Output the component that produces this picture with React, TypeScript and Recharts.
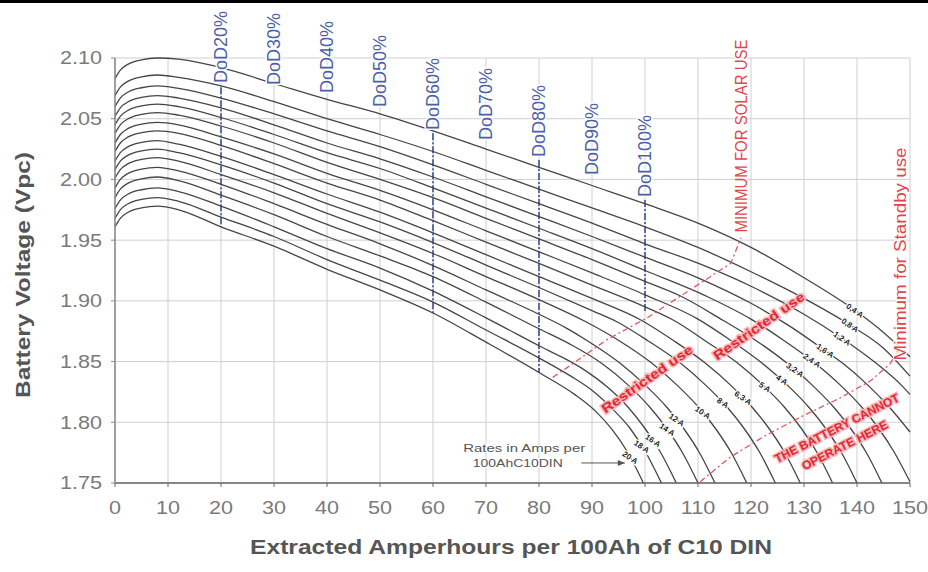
import React from 'react';
import { ComposedChart, Line, Scatter, XAxis, YAxis, CartesianGrid, ReferenceLine } from 'recharts';

const FONT = "'Liberation Sans', Arial, Helvetica, sans-serif";
const STRETCH = 1.2;

const xTicks = [0, 10, 20, 30, 40, 50, 60, 70, 80, 90, 100, 110, 120, 130, 140, 150];
const yTicks = [1.75, 1.8, 1.85, 1.9, 1.95, 2.0, 2.05, 2.1];

const rateNames = ['0,4 A', '0,8 A', '1,2 A', '1,6 A', '2,4 A', '3,2 A', '4 A', '5 A', '6,3 A', '8 A', '10 A', '12 A', '14 A', '16 A', '18 A', '20 A'];

// discharge curves: [Ah extracted per 100Ah, volts per cell]
const c0_4 = [[0, 2.083], [1, 2.09], [2.5, 2.095], [5, 2.0985], [8, 2.1], [12, 2.099], [20, 2.092], [30, 2.079], [40, 2.066], [50, 2.054], [60, 2.04], [70, 2.025], [80, 2.01], [90, 1.995], [100, 1.98], [110, 1.964], [120, 1.944], [130, 1.919], [140, 1.891], [145, 1.874], [150, 1.854]];
const c0_8 = [[0, 2.069], [1, 2.076], [2.5, 2.081], [5, 2.0845], [8, 2.086], [12, 2.084], [20, 2.077], [30, 2.064], [40, 2.05], [50, 2.037], [60, 2.023], [70, 2.0075], [80, 1.992], [90, 1.9765], [100, 1.961], [110, 1.944], [120, 1.924], [130, 1.902], [138.7, 1.88], [145, 1.861], [150, 1.838]];
const c1_2 = [[0, 2.06], [1, 2.067], [2.5, 2.072], [5, 2.0755], [8, 2.077], [12, 2.075], [20, 2.067], [30, 2.054], [40, 2.04], [50, 2.027], [60, 2.012], [70, 1.996], [80, 1.98], [90, 1.964], [100, 1.947], [110, 1.931], [120, 1.912], [130, 1.889], [137.2, 1.869], [143.5, 1.849], [148.5, 1.83], [150, 1.823]];
const c1_6 = [[0, 2.052], [1, 2.059], [2.5, 2.064], [5, 2.0675], [8, 2.069], [12, 2.067], [20, 2.059], [30, 2.045], [40, 2.03], [50, 2.017], [60, 2.002], [70, 1.9857], [80, 1.9694], [90, 1.953], [100, 1.936], [110, 1.919], [120, 1.898], [127, 1.88], [134, 1.859], [137.2, 1.849], [142.2, 1.83], [146.2, 1.812], [150, 1.792]];
const c2_4 = [[0, 2.045], [1, 2.052], [2.5, 2.057], [5, 2.0605], [8, 2.062], [12, 2.06], [20, 2.051], [30, 2.037], [40, 2.022], [50, 2.009], [60, 1.993], [70, 1.9764], [80, 1.9598], [90, 1.943], [100, 1.925], [112, 1.903], [120, 1.885], [126, 1.868], [132, 1.849], [137, 1.83], [141, 1.812], [144, 1.7955], [147, 1.7755], [150, 1.751]];
const c3_2 = [[0, 2.038], [1, 2.045], [2.5, 2.05], [5, 2.0535], [8, 2.055], [12, 2.053], [20, 2.044], [30, 2.03], [40, 2.014], [50, 2.0], [60, 1.985], [70, 1.968], [80, 1.951], [90, 1.934], [100, 1.916], [106.7, 1.904], [114.7, 1.884], [120.7, 1.868], [126.7, 1.849], [131.7, 1.83], [135.7, 1.812], [138.7, 1.7955], [141.7, 1.7755], [144.7, 1.75]];
const c4 = [[0, 2.03], [1, 2.037], [2.5, 2.042], [5, 2.0455], [8, 2.047], [12, 2.045], [20, 2.035], [30, 2.021], [40, 2.005], [50, 1.991], [60, 1.975], [70, 1.9577], [80, 1.9404], [90, 1.923], [100, 1.905], [110, 1.885], [116, 1.868], [122, 1.849], [127, 1.83], [131, 1.812], [134, 1.7955], [137, 1.7755], [140, 1.75]];
const c5 = [[0, 2.023], [1, 2.03], [2.5, 2.035], [5, 2.0385], [8, 2.04], [12, 2.038], [20, 2.028], [30, 2.013], [40, 1.997], [50, 1.983], [60, 1.966], [70, 1.9484], [80, 1.9308], [90, 1.913], [100, 1.895], [105.4, 1.884], [111.4, 1.867], [117.4, 1.849], [122.4, 1.83], [126.4, 1.812], [129.4, 1.7955], [132.4, 1.7755], [135.4, 1.75]];
const c6_3 = [[0, 2.015], [1, 2.022], [2.5, 2.027], [5, 2.0305], [8, 2.032], [12, 2.029], [20, 2.019], [30, 2.004], [40, 1.988], [50, 1.973], [60, 1.956], [70, 1.938], [80, 1.92], [90, 1.902], [99.3, 1.884], [105.3, 1.8675], [111.3, 1.849], [116.3, 1.83], [120.3, 1.812], [123.3, 1.7955], [126.3, 1.7755], [129.3, 1.75]];
const c8 = [[0, 2.008], [1, 2.015], [2.5, 2.02], [5, 2.0235], [8, 2.025], [12, 2.022], [20, 2.012], [30, 1.997], [40, 1.98], [50, 1.965], [60, 1.948], [70, 1.9295], [80, 1.911], [90, 1.892], [94.6, 1.883], [100.6, 1.867], [106.6, 1.849], [111.6, 1.83], [115.6, 1.812], [118.6, 1.7955], [121.6, 1.7755], [124.6, 1.75]];
const c10 = [[0, 2.001], [1, 2.008], [2.5, 2.013], [5, 2.0165], [8, 2.018], [12, 2.015], [20, 2.004], [30, 1.989], [40, 1.972], [50, 1.956], [60, 1.939], [70, 1.92], [80, 1.901], [89.2, 1.882], [95.2, 1.867], [101.2, 1.849], [106.2, 1.83], [110.2, 1.812], [113.2, 1.7955], [116.2, 1.7755], [119.2, 1.75]];
const c12 = [[0, 1.993], [1, 2.0], [2.5, 2.005], [5, 2.0085], [8, 2.01], [12, 2.007], [20, 1.996], [30, 1.98], [40, 1.963], [50, 1.947], [60, 1.929], [70, 1.909], [80, 1.889], [85, 1.878], [89.2, 1.867], [95.2, 1.849], [100.2, 1.83], [104.2, 1.812], [107.2, 1.7955], [110.2, 1.7755], [113.2, 1.75]];
const c14 = [[0, 1.985], [1, 1.992], [2.5, 1.997], [5, 2.0005], [8, 2.002], [12, 1.999], [20, 1.987], [30, 1.971], [40, 1.953], [50, 1.937], [60, 1.92], [70, 1.899], [80, 1.877], [86, 1.864], [92, 1.848], [97, 1.83], [101, 1.812], [104, 1.7955], [107, 1.7755], [110, 1.75]];
const c16 = [[0, 1.976], [1, 1.983], [2.5, 1.988], [5, 1.9915], [8, 1.993], [12, 1.99], [20, 1.978], [30, 1.961], [40, 1.943], [50, 1.927], [60, 1.908], [70, 1.886], [80, 1.863], [87.9, 1.845], [92.9, 1.829], [96.9, 1.812], [99.9, 1.7955], [102.9, 1.7755], [105.9, 1.75]];
const c18 = [[0, 1.968], [1, 1.975], [2.5, 1.98], [5, 1.9835], [8, 1.985], [12, 1.982], [20, 1.969], [30, 1.953], [40, 1.934], [50, 1.917], [60, 1.899], [70, 1.876], [80, 1.853], [86, 1.838], [90.1, 1.826], [94.1, 1.81], [97.1, 1.7955], [100.1, 1.7755], [103.1, 1.75]];
const c20 = [[0, 1.961], [1, 1.968], [2.5, 1.973], [5, 1.9765], [8, 1.978], [12, 1.975], [20, 1.961], [30, 1.945], [40, 1.926], [50, 1.909], [60, 1.89], [70, 1.866], [80, 1.841], [86.7, 1.823], [90.7, 1.809], [93.7, 1.7945], [96.7, 1.7755], [99.7, 1.75]];

const curves = [c0_4, c0_8, c1_2, c1_6, c2_4, c3_2, c4, c5, c6_3, c8, c10, c12, c14, c16, c18, c20];

// where the rate labels sit (Ah, V)
const rateLabelX = [139.6, 138.7, 137.2, 134.0, 131.5, 128.3, 125.8, 122.6, 118.5, 114.7, 110.9, 106.0, 104.2, 101.5, 99.4, 97.2];
const rateLabelV = [1.892, 1.88, 1.869, 1.859, 1.851, 1.843, 1.835, 1.829, 1.82, 1.816, 1.808, 1.802, 1.794, 1.785, 1.78, 1.771];

// depth of discharge markers
const dodNames = ['DoD20%', 'DoD30%', 'DoD40%', 'DoD50%', 'DoD60%', 'DoD70%', 'DoD80%', 'DoD90%', 'DoD100%'];
const dodX = [20, 30, 40, 50, 60, 70, 80, 90, 100];
const dodBase = [2.0794, 2.0778, 2.0712, 2.0596, 2.0407, 2.0325, 2.0185, 2.0036, 1.9855];
const dodLineX = [20, 60, 80, 100];
const dodLineTop = [2.076, 2.038, 2.016, 1.983];
const dodLineBottom = [1.961, 1.89, 1.841, 1.89];

// red limit lines
const solarLimit = [[82.6, 1.837], [85.3, 1.845], [92.8, 1.868], [100.4, 1.886], [110.6, 1.915], [116.2, 1.931], [118.1, 1.952]];
const standbyLimit = [[110.4, 1.751], [116, 1.771], [122.3, 1.788], [129.2, 1.804], [136.8, 1.82], [142.5, 1.834], [146.2, 1.848], [148.2, 1.862]];
const rateArrow = [[88.0, 1.7665], [96.2, 1.7665]];

// annotation anchors
const restrictedX = [100.4, 121.5];
const restrictedV = [1.8356, 1.8792];
const cannotText = ['THE BATTERY CANNOT', 'OPERATE HERE'];
const cannotX = [136.2, 137.7];
const cannotV = [1.7952, 1.7812];
const cannotLen = [138, 95];
const limitText = ['MINIMUM FOR SOLAR USE', 'Minimum for Standby use'];
const limitX = [118.1, 148.1];
const limitV = [2.0357, 1.9386];
const limitLen = [193, 213];
const ratesNote = ['Rates in Amps per', '100AhC10DIN'];
const ratesNoteX = [77.2, 76.0];
const ratesNoteV = [1.7785, 1.7665];
const ratesNoteLen = [122, 90];

const toPts = (pts: number[][]) => pts.map(([x, v]) => ({ x, v }));

const RED = '#e3272f';
const BLUE = '#4e5fa9';

function YTick({ x, y, payload }: any) {
  return (
    <g transform={`translate(${x - 7},${y}) scale(${STRETCH},1)`}>
      <text textAnchor="end" dy="0.36em" fontSize={18} fill="#7a7a7a" fontFamily={FONT}>
        {Number(payload.value).toFixed(2)}
      </text>
    </g>
  );
}

function XTick({ x, y, payload }: any) {
  return (
    <g transform={`translate(${x},${y + 25}) scale(${STRETCH},1)`}>
      <text textAnchor="middle" fontSize={18} fill="#7a7a7a" fontFamily={FONT}>
        {payload.value}
      </text>
    </g>
  );
}

export default function App() {
  const rateData = rateNames.map((name, i) => ({ x: rateLabelX[i], v: rateLabelV[i], name }));
  const dodData = dodNames.map((name, i) => ({ x: dodX[i], v: dodBase[i], name }));
  const restrictedData = restrictedX.map((x, i) => ({ x, v: restrictedV[i] }));
  const cannotData = cannotText.map((name, i) => ({ x: cannotX[i], v: cannotV[i], name, len: cannotLen[i] }));
  const limitData = limitText.map((name, i) => ({ x: limitX[i], v: limitV[i], name, len: limitLen[i] }));
  const noteData = ratesNote.map((name, i) => ({ x: ratesNoteX[i], v: ratesNoteV[i], name, len: ratesNoteLen[i] }));

  return (
    <div style={{ position: 'absolute', left: 0, top: 0, width: 928, height: 572, background: '#fff', fontFamily: FONT }}>
      <div style={{ position: 'absolute', left: 0, top: 0, width: 928, height: 3, background: '#000' }} />
      <ComposedChart width={928} height={572} margin={{ top: 58, right: 18, bottom: 59, left: 45 }}>
        <CartesianGrid stroke="#cfcfcf" strokeWidth={1} />
        <XAxis
          dataKey="x"
          type="number"
          domain={[0, 150]}
          ticks={xTicks}
          height={30}
          tickSize={4}
          axisLine={{ stroke: '#666', strokeWidth: 1.5 }}
          tickLine={{ stroke: '#666' }}
          tick={<XTick />}
          interval={0}
        />
        <YAxis
          type="number"
          domain={[1.75, 2.1]}
          ticks={yTicks}
          width={70}
          tickSize={4}
          axisLine={{ stroke: '#888', strokeWidth: 1.5 }}
          tickLine={{ stroke: '#888' }}
          tick={<YTick />}
          interval={0}
        />

        {dodLineX.map((x, i) => (
          <ReferenceLine
            key={'dl' + x}
            segment={[{ x, y: dodLineTop[i] }, { x, y: dodLineBottom[i] }]}
            stroke="#3e4f98"
            strokeWidth={1.6}
            strokeDasharray="7 2 2 2"
          />
        ))}

        {curves.map((c, i) => (
          <Line
            key={rateNames[i]}
            data={toPts(c)}
            dataKey="v"
            type="monotone"
            stroke="#454545"
            strokeWidth={1.3}
            dot={false}
            activeDot={false}
            isAnimationActive={false}
          />
        ))}

        <Line data={toPts(solarLimit)} dataKey="v" type="linear" stroke="#e4575b" strokeWidth={1.3} strokeDasharray="6 3 2 3" dot={false} activeDot={false} isAnimationActive={false} />
        <Line data={toPts(standbyLimit)} dataKey="v" type="linear" stroke="#e4575b" strokeWidth={1.3} strokeDasharray="6 3 2 3" dot={false} activeDot={false} isAnimationActive={false} />
        <Line
          data={toPts(rateArrow)}
          dataKey="v"
          type="linear"
          stroke="#555"
          strokeWidth={1}
          activeDot={false}
          isAnimationActive={false}
          dot={(p: any) =>
            p.index === rateArrow.length - 1 ? (
              <path key="ah" d={`M${p.cx},${p.cy} l-7,-3 l0,6 z`} fill="#555" />
            ) : (
              <g key={'ad' + p.index} />
            )
          }
        />

        <Scatter
          data={dodData}
          dataKey="v"
          isAnimationActive={false}
          shape={(p: any) => (
            <text
              x={p.cx}
              y={p.cy}
              transform={`rotate(-90 ${p.cx} ${p.cy})`}
              dy="0.36em"
              textAnchor="start"
              fontSize={18}
              fontFamily={FONT}
              fill={BLUE}
              stroke="#fff"
              strokeWidth={3}
              paintOrder="stroke"
            >
              {p.payload.name}
            </text>
          )}
        />

        <Scatter
          data={rateData}
          dataKey="v"
          isAnimationActive={false}
          shape={(p: any) => (
            <text
              x={p.cx}
              y={p.cy}
              transform={`rotate(34 ${p.cx} ${p.cy})`}
              dy="0.35em"
              textAnchor="middle"
              fontSize={8}
              fontWeight="bold"
              fontFamily={FONT}
              fill="#222"
              stroke="#fff"
              strokeWidth={2.5}
              paintOrder="stroke"
            >
              {p.payload.name}
            </text>
          )}
        />

        <Scatter
          data={restrictedData}
          dataKey="v"
          isAnimationActive={false}
          shape={(p: any) => (
            <text
              x={p.cx}
              y={p.cy}
              transform={`rotate(-35 ${p.cx} ${p.cy})`}
              dy="0.35em"
              textAnchor="middle"
              fontSize={13}
              fontWeight="bold"
              fontFamily={FONT}
              fill={RED}
              stroke="#f7b8bd"
              strokeWidth={3}
              paintOrder="stroke"
              textLength={108}
              lengthAdjust="spacingAndGlyphs"
            >
              Restricted use
            </text>
          )}
        />

        <Scatter
          data={cannotData}
          dataKey="v"
          isAnimationActive={false}
          shape={(p: any) => (
            <text
              x={p.cx}
              y={p.cy}
              transform={`rotate(-27 ${p.cx} ${p.cy})`}
              dy="0.35em"
              textAnchor="middle"
              fontSize={12}
              fontWeight="bold"
              fontFamily={FONT}
              fill={RED}
              stroke="#f7b8bd"
              strokeWidth={3}
              paintOrder="stroke"
              textLength={p.payload.len}
              lengthAdjust="spacingAndGlyphs"
            >
              {p.payload.name}
            </text>
          )}
        />

        <Scatter
          data={limitData}
          dataKey="v"
          isAnimationActive={false}
          shape={(p: any) => (
            <text
              x={p.cx}
              y={p.cy}
              transform={`rotate(-90 ${p.cx} ${p.cy})`}
              dy="0.36em"
              textAnchor="middle"
              fontSize={16}
              fontFamily={FONT}
              fill="#e2454b"
              stroke="#fff"
              strokeWidth={2}
              paintOrder="stroke"
              textLength={p.payload.len}
              lengthAdjust="spacingAndGlyphs"
            >
              {p.payload.name}
            </text>
          )}
        />

        <Scatter
          data={noteData}
          dataKey="v"
          isAnimationActive={false}
          shape={(p: any) => (
            <text
              x={p.cx}
              y={p.cy}
              dy="0.35em"
              textAnchor="middle"
              fontSize={11}
              fontFamily={FONT}
              fill="#555"
              stroke="#fff"
              strokeWidth={2}
              paintOrder="stroke"
              textLength={p.payload.len}
              lengthAdjust="spacingAndGlyphs"
            >
              {p.payload.name}
            </text>
          )}
        />
      </ComposedChart>

      <svg width={928} height={572} style={{ position: 'absolute', left: 0, top: 0, pointerEvents: 'none' }}>
        <text
          x={511}
          y={554}
          textAnchor="middle"
          fontSize={20}
          fontWeight="bold"
          fill="#555"
          fontFamily={FONT}
          textLength={522}
          lengthAdjust="spacingAndGlyphs"
        >
          Extracted Amperhours per 100Ah of C10 DIN
        </text>
        <text
          x={30}
          y={275}
          transform="rotate(-90 30 275)"
          textAnchor="middle"
          fontSize={21}
          fontWeight="bold"
          fill="#555"
          fontFamily={FONT}
          textLength={246}
          lengthAdjust="spacingAndGlyphs"
        >
          Battery Voltage (Vpc)
        </text>
      </svg>
    </div>
  );
}
